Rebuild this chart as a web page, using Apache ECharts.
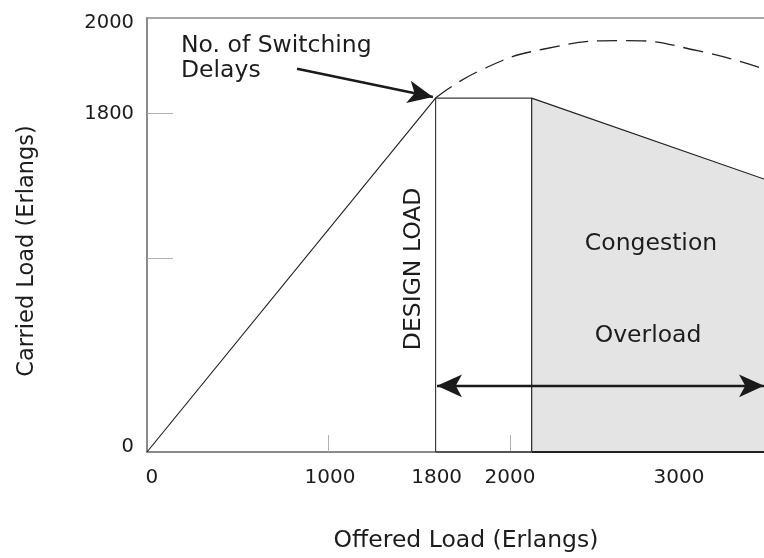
<!DOCTYPE html>
<html><head><meta charset="utf-8">
<script src="https://cdn.jsdelivr.net/npm/echarts@6/dist/echarts.min.js"></script>
<style>html,body{margin:0;padding:0;background:#fff}#c{width:764px;height:558px}</style>
</head><body><div id="c"></div>
<script>
// Schematic axis units (the printed scale is not linear; tick labels)
const xLabelText = ['0', '1000', '1800', '2000', '3000'];
const xLabelPos = [27, 1038, 1643, 2059, 3018];
const xTickPos = [1028, 2063, 2545, 2999];
const yLabelText = ['0', '1800', '2000'];
const yLabelPos = [22, 1559, 1975];
const yTickPos = [894, 1559];

const rampLine = [[0, 0], [1637, 1631]];
const designLine = [[1637, 0], [1637, 1631], [2182, 1631]];
const designBase = [[1637, 0], [2182, 0]];
const congestionEdge = [[2182, 0], [2182, 1631], [3500, 1258]];
const congestionBase = [[2182, 0], [3500, 0]];
const delayCurve = [[1637, 1631], [1889, 1758], [2246, 1856], [2723, 1896], [3137, 1847], [3500, 1765]];
const overloadArrow = [[1645, 305], [3500, 305]];
const noteArrow = [[851, 1766], [1622, 1636]];

const notes = [
  { text: 'No. of Switching\nDelays', at: [193, 1816], rotate: 0, align: 'left' },
  { text: 'DESIGN LOAD', at: [1515, 844], rotate: 90, align: 'center' },
  { text: 'Congestion', at: [2859, 961], rotate: 0, align: 'center' },
  { text: 'Overload', at: [2842, 534], rotate: 0, align: 'center' }
];

const FONT = 'DejaVu Sans';
const INK = '#1c1c1c';

function nearestLabel(v, pos, txt) {
  let best = 0;
  for (let i = 1; i < pos.length; i++) if (Math.abs(pos[i] - v) < Math.abs(pos[best] - v)) best = i;
  return txt[best];
}

const chart = echarts.init(document.getElementById('c'), null, { renderer: 'canvas' });
chart.setOption({
  animation: false,
  backgroundColor: '#fff',
  grid: { left: 147, top: 18, right: 0, bottom: 95, containLabel: false },
  xAxis: [{
    type: 'value', min: 0, max: 3500, position: 'bottom',
    axisLine: { show: true, lineStyle: { color: '#8a8a8a', width: 2 } },
    axisTick: { show: true, inside: true, length: 17, customValues: xTickPos, lineStyle: { color: '#b0b0b0', width: 1 } },
    axisLabel: { show: true, margin: 16, customValues: xLabelPos, formatter: v => nearestLabel(v, xLabelPos, xLabelText), fontFamily: FONT, fontSize: 20, color: INK },
    splitLine: { show: false },
    name: 'Offered Load (Erlangs)', nameLocation: 'middle', nameGap: 77,
    nameTextStyle: { fontFamily: FONT, fontSize: 23.5, color: INK, padding: [0, 0, 0, 21] }
  }, {
    type: 'value', min: 0, max: 3500, position: 'top',
    axisLine: { show: true, lineStyle: { color: '#8a8a8a', width: 1.5 } },
    axisTick: { show: false }, axisLabel: { show: false }, splitLine: { show: false }
  }],
  yAxis: {
    type: 'value', min: 0, max: 2000,
    axisLine: { show: true, lineStyle: { color: '#8a8a8a', width: 2 } },
    axisTick: { show: true, inside: true, length: 26, customValues: yTickPos, lineStyle: { color: '#b0b0b0', width: 1 } },
    axisLabel: { show: true, margin: 13, customValues: yLabelPos, formatter: v => nearestLabel(v, yLabelPos, yLabelText), fontFamily: FONT, fontSize: 19.5, color: INK },
    splitLine: { show: false },
    name: 'Carried Load (Erlangs)', nameLocation: 'middle', nameGap: 108, nameRotate: 90,
    nameTextStyle: { fontFamily: FONT, fontSize: 22.5, color: INK, padding: [0, 32, 0, 0] }
  },
  series: [
    {
      type: 'line', data: congestionEdge, symbol: 'none', silent: true,
      lineStyle: { color: '#222', width: 1.2 },
      areaStyle: { color: '#e4e4e4', opacity: 1 }
    },
    {
      type: 'line', data: congestionBase, symbol: 'none', silent: true,
      lineStyle: { color: '#222', width: 2.2 }
    },
    {
      type: 'line', data: designBase, symbol: 'none', silent: true,
      lineStyle: { color: '#555', width: 2 }
    },
    {
      type: 'line', data: designLine, symbol: 'none', silent: true,
      lineStyle: { color: '#3a3a3a', width: 1.2 }
    },
    {
      type: 'line', data: delayCurve, symbol: 'none', silent: true, smooth: 0.5,
      lineStyle: { color: '#222', width: 1.3, type: [20, 9] }
    },
    {
      type: 'line', data: rampLine, symbol: 'none', silent: true,
      lineStyle: { color: '#1a1a1a', width: 1.1 },
      markLine: {
        silent: true, animation: false,
        symbol: ['arrow', 'arrow'], symbolSize: [17, 25],
        label: { show: false },
        lineStyle: { color: '#1a1a1a', width: 2.4, type: 'solid' },
        data: [
          [{ coord: overloadArrow[0] }, { coord: overloadArrow[1] }],
          [{ coord: noteArrow[0], symbol: 'none' }, { coord: noteArrow[1], symbol: 'arrow' }]
        ]
      },
      markPoint: {
        silent: true, animation: false, symbol: 'circle', symbolSize: 0,
        data: notes.map(n => ({
          coord: n.at,
          label: {
            show: true, position: 'inside', formatter: n.text, rotate: n.rotate,
            align: n.align, verticalAlign: 'middle',
            fontFamily: FONT, fontSize: 23.5, lineHeight: 25, color: INK
          }
        }))
      }
    }
  ]
});
</script></body></html>
